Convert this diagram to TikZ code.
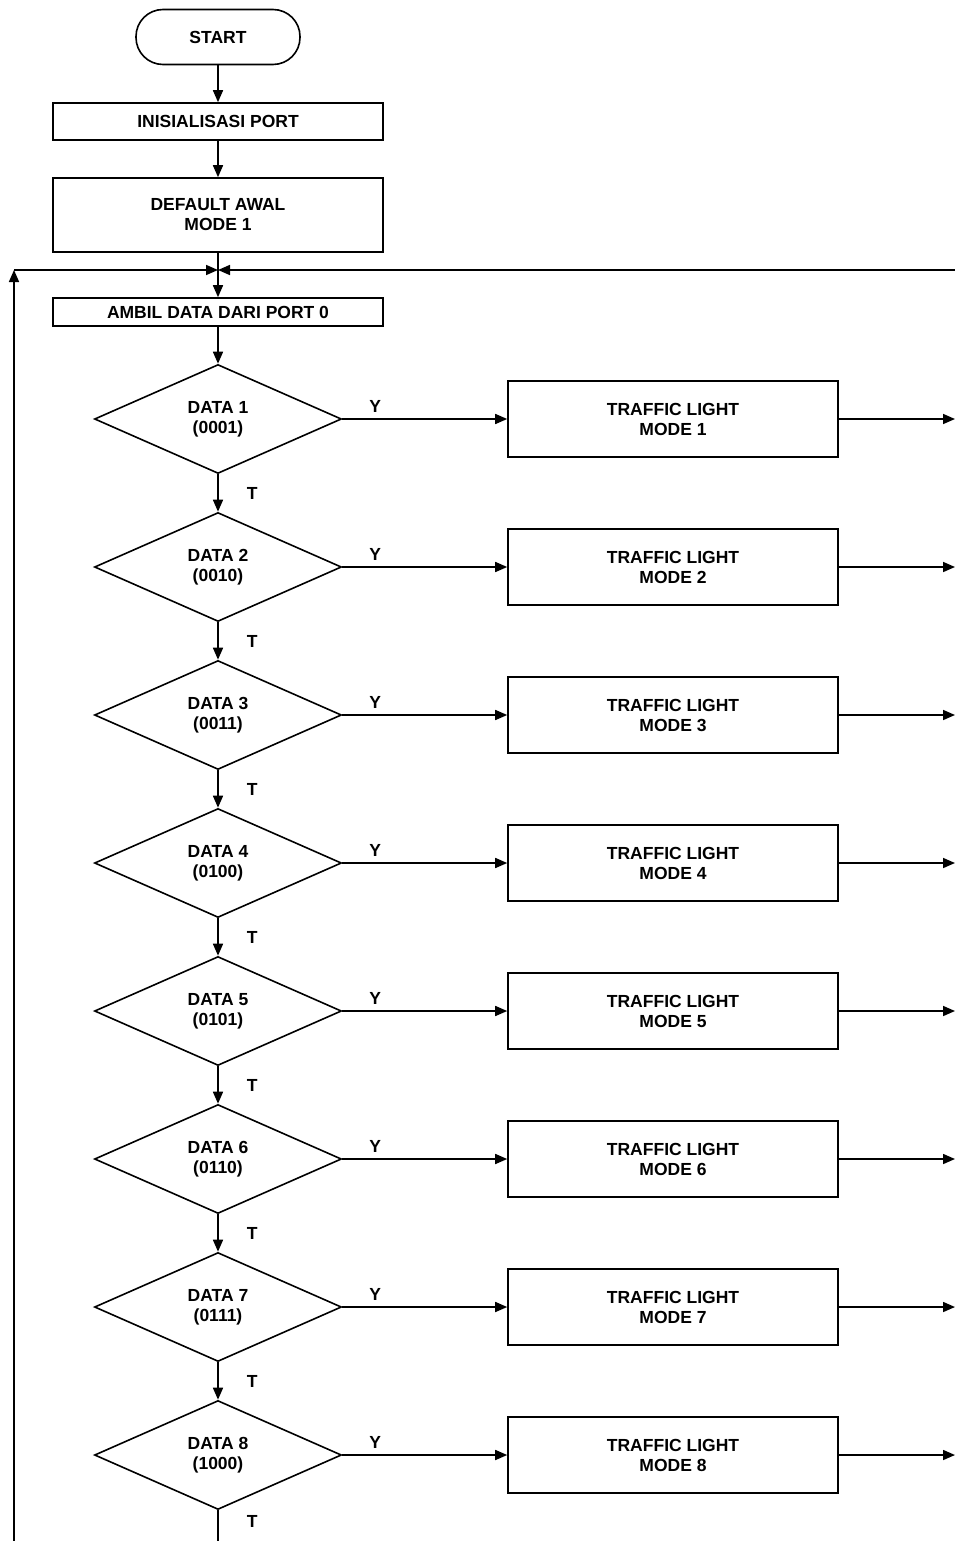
\documentclass[tikz,border=0pt]{standalone}
\usepackage{fontspec}
\setmainfont{Liberation Sans}
\usetikzlibrary{shapes.geometric,arrows.meta}
\begin{document}
\begin{tikzpicture}[x=1pt,y=-1pt,
  every node/.style={font=\bfseries\fontsize{17.5}{20}\selectfont, align=center, inner sep=0pt},
  line/.style={line width=1.6pt},
  flow/.style={line, -{Triangle[length=12pt,width=10pt]}},
  terminal/.style={draw, line width=1.6pt, rounded corners=27pt, minimum width=164pt, minimum height=55pt},
  proc/.style={draw, line width=1.6pt, minimum width=330pt},
  decision/.style={draw, diamond, aspect=2.27, line width=1.6pt, minimum width=247pt, minimum height=109pt},
  lbl/.style={font=\bfseries\fontsize{17.5}{20}\selectfont}]
\useasboundingbox (0,0) rectangle (955,1541);

% start and initialisation
\node[terminal] (start) at (218,37) {START};
\node[proc, minimum height=37pt] (init) at (218,121.5) {INISIALISASI PORT};
\node[proc, minimum height=74pt] (def) at (218,215) {DEFAULT AWAL\\MODE 1};
\node[proc, minimum height=28pt] (ambil) at (218,312) {AMBIL DATA DARI PORT 0};

% loop-back junction
\coordinate (merge) at (218,270);
\coordinate (loopL) at (14,270);
\coordinate (loopB) at (14,1541);
\coordinate (loopR) at (955,270);
\coordinate (tail) at (218,1541);

\draw[flow] (start) -- (init);
\draw[flow] (init) -- (def);
\draw[flow] (def) -- (ambil);
\draw[flow] (loopB) -- (loopL);
\draw[flow] (loopL) -- (merge);
\draw[flow] (loopR) -- (merge);

% decisions and traffic light modes
\foreach \i/\code in {1/0001,2/0010,3/0011,4/0100,5/0101,6/0110,7/0111,8/1000} {
  \pgfmathsetmacro\yy{419+(\i-1)*148}
  \node[decision] (d\i) at (218,\yy) {DATA \i\\(\code)};
  \node[proc, minimum height=76pt] (m\i) at (673,\yy) {TRAFFIC LIGHT\\MODE \i};
  \coordinate (r\i) at (955,\yy);
  \draw[flow] (d\i.east) -- node[lbl, pos=0.2, above=6pt] {Y} (m\i.west);
  \draw[flow] (m\i.east) -- (r\i);
}

\draw[flow] (ambil) -- (d1);
\foreach \i in {1,...,7} {
  \pgfmathtruncatemacro\n{\i+1}
  \draw[flow] (d\i.south) -- node[lbl, midway, anchor=west, xshift=28pt] {T} (d\n.north);
}
\draw[line] (d8.south) -- node[lbl, pos=0.35, anchor=west, xshift=28pt] {T} (tail);
\end{tikzpicture}
\end{document}
